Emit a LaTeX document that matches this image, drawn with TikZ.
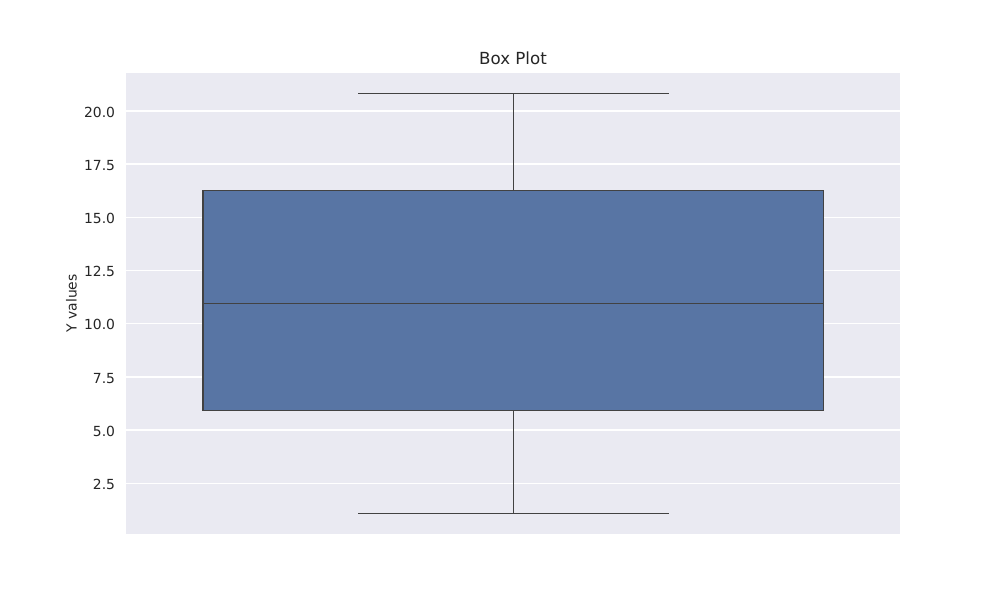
\documentclass[tikz,border=0pt]{standalone}
\usepackage{fontspec}
\setmainfont{DejaVu Sans}
\definecolor{axbg}{HTML}{EAEAF2}
\definecolor{boxfill}{HTML}{5875A4}
\definecolor{boxedge}{HTML}{424242}
\definecolor{txt}{HTML}{262626}
\tikzset{
  gridline/.style={draw=white, line width=1pt},
  boxline/.style={draw=boxedge, line width=1.05pt},
  ticklab/.style={anchor=base east, inner sep=0pt, text=txt, font=\fontsize{10}{12}\selectfont},
  titlelab/.style={anchor=base, inner sep=0pt, text=txt, font=\fontsize{12}{14}\selectfont},
  axlab/.style={anchor=base, inner sep=0pt, text=txt, rotate=90, font=\fontsize{10}{12}\selectfont},
}
\begin{document}
\begin{tikzpicture}[x=0.72pt, y=-0.72pt]
\useasboundingbox[fill=white] (0,0) rectangle (1000,600);
% axes background
\fill[axbg] (126,73) rectangle (900,533.7);
% grid lines
\foreach \v/\lab in {20/20.0, 17.5/17.5, 15/15.0, 12.5/12.5, 10/10.0, 7.5/7.5, 5/5.0, 2.5/2.5}{
  \pgfmathsetmacro{\yy}{111+(20-\v)*21.27}
  \draw[gridline] (126,\yy) -- (900,\yy);
  \node[ticklab] at (115.3,\yy+6.2) {\lab};
}
% whiskers and caps
\coordinate (qtop) at (513.3,190.3);
\coordinate (qbot) at (513.3,410.3);
\coordinate (wtop) at (513.3,93.3);
\coordinate (wbot) at (513.3,513.5);
\coordinate (captl) at (358.3,93.3);
\coordinate (captr) at (668.7,93.3);
\coordinate (capbl) at (358.3,513.5);
\coordinate (capbr) at (668.7,513.5);
\draw[boxline] (qtop) -- (wtop);
\draw[boxline] (qbot) -- (wbot);
\draw[boxline] (captl) -- (captr);
\draw[boxline] (capbl) -- (capbr);
% box
\filldraw[fill=boxfill, boxline] (203,190.3) rectangle (823.5,410.3);
\draw[boxline] (203,303.3) -- (823.5,303.3);
% labels
\node[titlelab] (title) at (513,64) {Box Plot};
\node[axlab] (ylab) at (76.7,303.4) {Y values};
\end{tikzpicture}
\end{document}
